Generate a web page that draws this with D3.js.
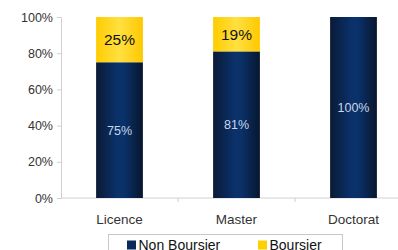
<!DOCTYPE html>
<html>
  <head>
    <meta charset="utf-8">
    <title></title>
  </head>
  <style>
    body{
      margin: 0;
      background-color: #fff;
      font-family: "Liberation Sans", Arial, sans-serif;
    }
    svg { display: block }
    .axis path, .axis line { stroke: #d0d0d0 }
    .axis text { fill: #333 }
  </style>
  <script src="https://d3js.org/d3.v7.min.js"></script>
  <body>
    <script>
    const categories = ["Licence", "Master", "Doctorat"]
    const nonBoursier = [75, 81, 100]
    const boursier = [25, 19, 0]
    const yTicks = [0, 20, 40, 60, 80, 100]
    const seriesNames = ["Non Boursier", "Boursier"]

    var width = 398, height = 250
    var plotLeft = 61, plotTop = 17, plotBottom = 198

    var svg = d3.select("body").append("svg")
                .attr("width", width)
                .attr("height", height)

    // gradients for the bars
    var defs = svg.append("defs")
    function grad(id, stops){
      var g = defs.append("linearGradient").attr("id", id)
                  .attr("x1", "0%").attr("x2", "100%").attr("y1", "0%").attr("y2", "0%")
      stops.forEach(function(s){
        g.append("stop").attr("offset", s[0]).attr("stop-color", s[1])
      })
    }
    grad("navy", [["0%", "#0b1a36"], ["45%", "#0a3169"], ["60%", "#0a3169"], ["100%", "#08162e"]])
    grad("gold", [["0%", "#ffcc00"], ["50%", "#ffe040"], ["100%", "#ffc800"]])

    var x = d3.scaleBand()
              .domain(categories)
              .range([plotLeft, plotLeft + 117 * 3])
              .paddingInner(0.6)
              .paddingOuter(0.3)

    var y = d3.scaleLinear().domain([0, 100]).range([plotBottom, plotTop])

    // y axis
    svg.append("g")
       .attr("class", "axis")
       .attr("transform", "translate(" + plotLeft + ",0)")
       .call(d3.axisLeft(y).tickValues(yTicks).tickSize(4).tickSizeOuter(0)
               .tickFormat(function(d){ return d + "%" }))
       .call(function(g){
         g.selectAll("text").attr("font-size", "12.5px").attr("font-family", "Liberation Sans, Arial").attr("dx", "-1")
       })

    // x axis: line + ticks at category boundaries
    var xg = svg.append("g").attr("class", "axis")
    xg.append("line")
      .attr("x1", plotLeft).attr("x2", width).attr("y1", plotBottom).attr("y2", plotBottom)
    var step = x.step()
    d3.range(1, categories.length).forEach(function(i){
      xg.append("line")
        .attr("x1", plotLeft + i * step).attr("x2", plotLeft + i * step)
        .attr("y1", plotBottom).attr("y2", plotBottom + 4)
    })
    xg.selectAll("text.cat")
      .data(categories)
      .enter().append("text")
      .attr("class", "cat")
      .attr("x", function(d){ return x(d) + x.bandwidth() / 2 })
      .attr("y", 224)
      .attr("text-anchor", "middle")
      .attr("font-size", "13.5px")
      .text(function(d){ return d })

    // bars
    var bars = svg.append("g")
    categories.forEach(function(c, i){
      var nb = nonBoursier[i], b = boursier[i]
      bars.append("rect")
          .attr("x", x(c)).attr("width", x.bandwidth())
          .attr("y", y(nb)).attr("height", y(0) - y(nb))
          .attr("fill", "url(#navy)")
      bars.append("text")
          .attr("x", x(c) + x.bandwidth() / 2)
          .attr("y", (y(nb) + y(0)) / 2)
          .attr("dy", "0.35em")
          .attr("text-anchor", "middle")
          .attr("font-size", "12.5px")
          .attr("fill", "#c9d6ea")
          .text(nb + "%")
      if (b > 0){
        bars.append("rect")
            .attr("x", x(c)).attr("width", x.bandwidth())
            .attr("y", y(nb + b)).attr("height", y(nb) - y(nb + b))
            .attr("fill", "url(#gold)")
        bars.append("text")
            .attr("x", x(c) + x.bandwidth() / 2)
            .attr("y", (y(nb + b) + y(nb)) / 2)
            .attr("dy", "0.35em")
            .attr("text-anchor", "middle")
            .attr("font-size", "15.5px")
            .attr("fill", "#111")
            .text(b + "%")
      }
    })

    // legend
    var legend = svg.append("g")
    legend.append("rect")
          .attr("x", 108.5).attr("y", 234.5)
          .attr("width", 234).attr("height", 30)
          .attr("fill", "#fff").attr("stroke", "#c8c8c8")
    var colors = ["#0a2a5a", "#ffd000"]
    var lx = [127, 258]
    seriesNames.forEach(function(n, i){
      legend.append("rect")
            .attr("x", lx[i]).attr("y", 240.5)
            .attr("width", 9).attr("height", 9)
            .attr("fill", colors[i])
      legend.append("text")
            .attr("x", lx[i] + 11.5).attr("y", 250)
            .attr("font-size", "14px")
            .attr("fill", "#111")
            .text(n)
    })
    </script>
  </body>
</html>
